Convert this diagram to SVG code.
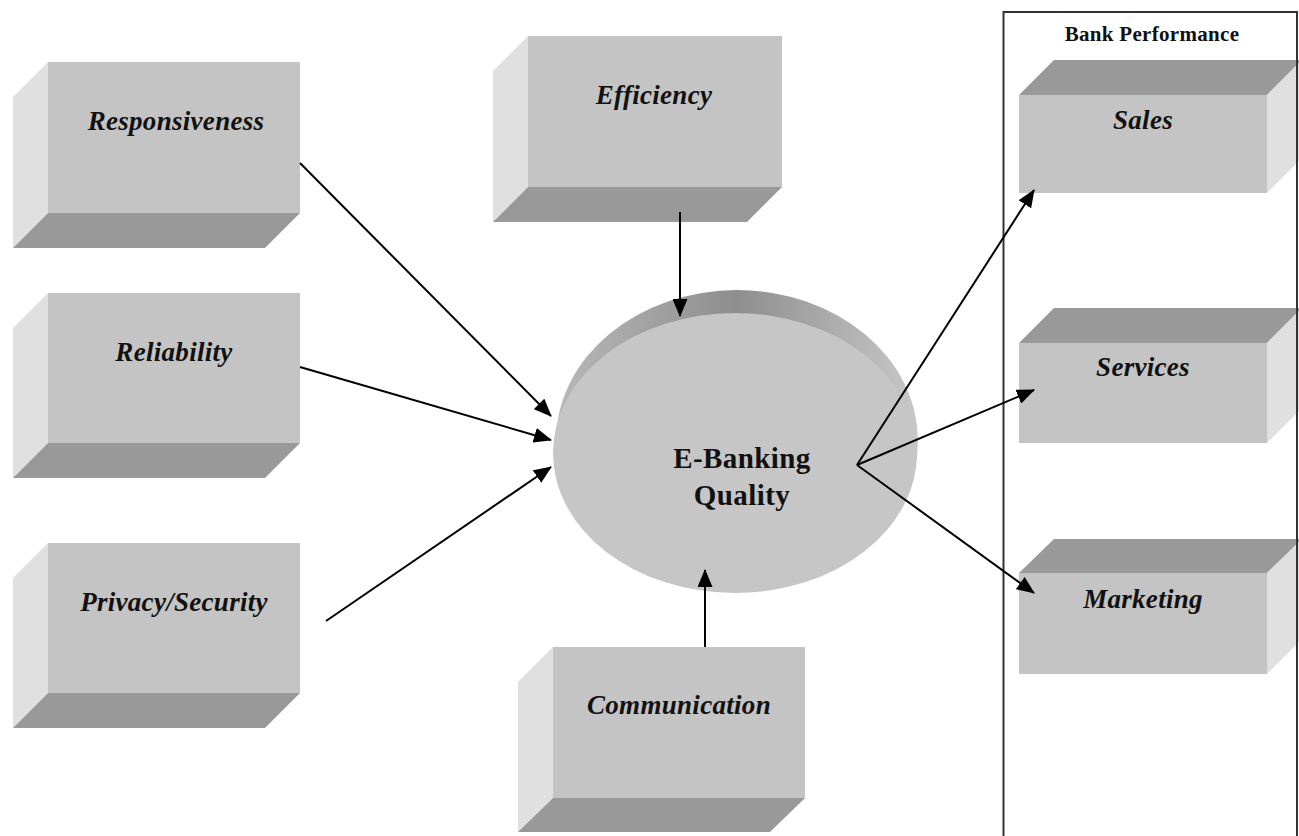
<svg xmlns="http://www.w3.org/2000/svg" width="1299" height="836" viewBox="0 0 1299 836">
<style>
.front{fill:#c4c4c4;}
.side{fill:#e0e0e0;}
.dark{fill:#999999;}
.lbl{font-family:"Liberation Serif",serif;font-weight:bold;font-style:italic;font-size:27px;fill:#111;text-anchor:middle;letter-spacing:0.3px;}
.ttl{font-family:"Liberation Serif",serif;font-weight:bold;font-size:29px;fill:#111;text-anchor:middle;letter-spacing:0.4px;}
.hdr{font-family:"Liberation Serif",serif;font-weight:bold;font-size:21px;fill:#111;text-anchor:middle;letter-spacing:0.3px;}
.conn line{stroke:#000;stroke-width:2;marker-end:url(#ah);}
</style>
<defs>
<marker id="ah" viewBox="0 0 18 15" refX="17" refY="7.5" markerWidth="18" markerHeight="15" markerUnits="userSpaceOnUse" orient="auto">
<path d="M0,0 L18,7.5 L0,15 Z" fill="#000"/>
</marker>
<linearGradient id="rim" x1="0" y1="0" x2="1" y2="0">
<stop offset="0" stop-color="#b8b8b8"/>
<stop offset="0.5" stop-color="#8e8e8e"/>
<stop offset="1" stop-color="#c8c8c8"/>
</linearGradient>
</defs>
<rect width="1299" height="836" fill="#fff"/>

<g id="responsiveness">
<polygon class="side" points="48,62 13,97 13,248 48,213"/>
<polygon class="dark" points="48,213 300,213 265,248 13,248"/>
<rect class="front" x="48" y="62" width="252" height="151"/>
<text class="lbl" x="176" y="130">Responsiveness</text>
</g>
<g id="reliability">
<polygon class="side" points="48,293 13,328 13,478 48,443"/>
<polygon class="dark" points="48,443 300,443 265,478 13,478"/>
<rect class="front" x="48" y="293" width="252" height="150"/>
<text class="lbl" x="174" y="361">Reliability</text>
</g>
<g id="privacy">
<polygon class="side" points="48,543 13,578 13,728 48,693"/>
<polygon class="dark" points="48,693 300,693 265,728 13,728"/>
<rect class="front" x="48" y="543" width="252" height="150"/>
<text class="lbl" x="174" y="611">Privacy/Security</text>
</g>
<g id="efficiency">
<polygon class="side" points="528,36 493,71 493,222 528,187"/>
<polygon class="dark" points="528,187 782,187 747,222 493,222"/>
<rect class="front" x="528" y="36" width="254" height="151"/>
<text class="lbl" x="654" y="104">Efficiency</text>
</g>
<g id="communication">
<polygon class="side" points="553,647 518,682 518,832 553,798"/>
<polygon class="dark" points="553,798 805,798 770,832 518,832"/>
<rect class="front" x="553" y="647" width="252" height="151"/>
<text class="lbl" x="679" y="714">Communication</text>
</g>

<g id="ebanking">
<ellipse cx="737" cy="441" rx="181" ry="151" fill="url(#rim)"/>
<ellipse cx="735" cy="453" rx="182" ry="140" fill="#c6c6c6"/>
<text class="ttl" x="742" y="468">E-Banking</text>
<text class="ttl" x="742" y="505">Quality</text>
</g>

<g id="sales">
<polygon class="dark" points="1019,95 1054,60 1302,60 1267,95"/>
<polygon class="side" points="1267,95 1302,60 1302,158 1267,193"/>
<rect class="front" x="1019" y="95" width="248" height="98"/>
<text class="lbl" x="1143" y="129">Sales</text>
</g>
<g id="services">
<polygon class="dark" points="1019,343 1054,308 1302,308 1267,343"/>
<polygon class="side" points="1267,343 1302,308 1302,408 1267,443"/>
<rect class="front" x="1019" y="343" width="248" height="100"/>
<text class="lbl" x="1143" y="376">Services</text>
</g>
<g id="marketing">
<polygon class="dark" points="1019,573 1054,539 1302,539 1267,573"/>
<polygon class="side" points="1267,573 1302,539 1302,639 1267,674"/>
<rect class="front" x="1019" y="573" width="248" height="101"/>
<text class="lbl" x="1143" y="608">Marketing</text>
</g>

<g id="bank-performance">
<rect x="1003.5" y="12" width="293.5" height="830" fill="none" stroke="#333" stroke-width="2"/>
<text class="hdr" x="1152" y="41">Bank Performance</text>
</g>

<g class="conn" id="connectors">
<line x1="300" y1="163" x2="551" y2="416"/>
<line x1="300" y1="367" x2="551" y2="440"/>
<line x1="326" y1="621" x2="551" y2="467"/>
<line x1="680" y1="212" x2="680" y2="316"/>
<line x1="705" y1="647" x2="705" y2="570"/>
<line x1="857" y1="465" x2="1034" y2="190"/>
<line x1="857" y1="465" x2="1034" y2="390"/>
<line x1="857" y1="465" x2="1034" y2="593"/>
</g>
</svg>
